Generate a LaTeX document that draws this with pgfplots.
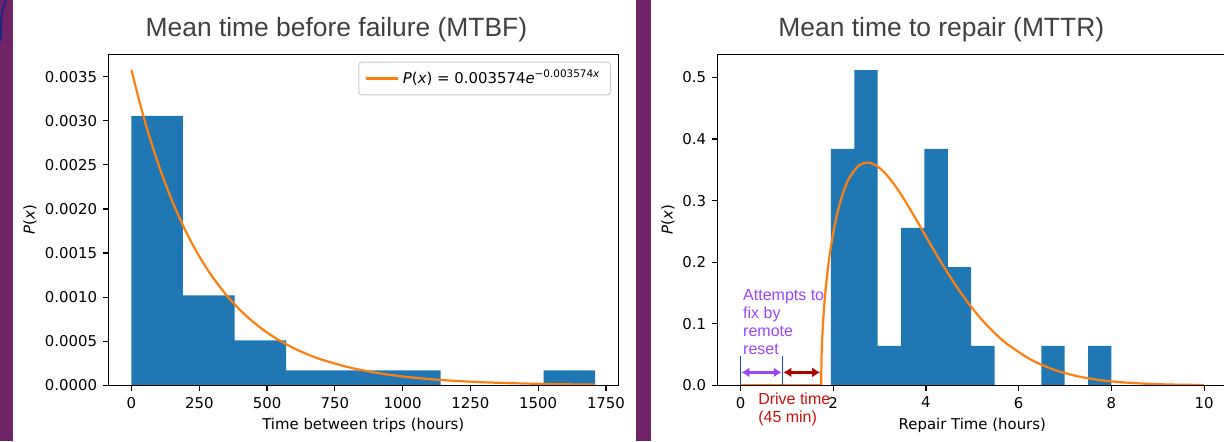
\documentclass[border=0pt]{standalone}
\usepackage{fontspec}
\setmainfont{DejaVu Sans}
\newfontfamily\arial{Liberation Sans}
\usepackage{pgfplots}
\pgfplotsset{compat=1.18}
\usetikzlibrary{arrows.meta}
\definecolor{mplblue}{HTML}{1F77B4}
\definecolor{mplorange}{HTML}{FF7F0E}
\definecolor{slidepurple}{HTML}{6E2466}
\definecolor{slidenavy}{HTML}{1B2A80}
\definecolor{titlegray}{HTML}{404040}
\definecolor{notepurple}{HTML}{9B46F8}
\definecolor{notered}{HTML}{C81010}
\definecolor{arrowred}{HTML}{B00000}
\definecolor{markblue}{HTML}{1F45C0}

% matplotlib-like look, 1px = 0.5pt
\pgfplotsset{
  mplstyle/.style={
    scale only axis, width=255pt, height=165.5pt, anchor=south west,
    axis on top,
    axis line style={black, line width=0.6pt},
    tick style={black, line width=0.6pt},
    major tick length=2.6pt,
    tick align=outside, tick pos=left,
    ymin=0,
    font=\fontsize{7.45}{9}\selectfont,
    /pgf/number format/assume math mode=true,
    /pgf/number format/1000 sep={},
    xticklabel style={anchor=north, inner sep=0pt, yshift=-3.1pt},
    yticklabel style={anchor=east, inner sep=0pt, xshift=-2.8pt},
    every axis x label/.style={at={(axis description cs:0.5,-0.135)}, anchor=base},
    every axis y label/.style={at={(axis description cs:-0.1535,0.5)}, rotate=90, anchor=center},
  }
}

\begin{document}
\begin{tikzpicture}
% slide background bits
\fill[slidepurple] (0,0) rectangle (6.35pt,220.5pt);
\fill[slidepurple] (318pt,0) rectangle (325.5pt,220.5pt);
\draw[slidenavy, line width=1pt] (0.3pt,200pt) to[out=85,in=-115] (3pt,220.5pt);

% ---- MTBF ----
\begin{axis}[mplstyle, at={(54.15pt,27.85pt)},
  xmin=-85.5, xmax=1795.5, ymax=0.003753,
  xtick={0,250,500,750,1000,1250,1500,1750},
  ytick={0,0.0005,0.001,0.0015,0.002,0.0025,0.003,0.0035},
  scaled y ticks=false,
  yticklabel style={/pgf/number format/fixed, /pgf/number format/fixed zerofill, /pgf/number format/precision=4},
  xlabel={Time between trips (hours)},
  ylabel={\textit{P}(\textit{x})},
  legend style={at={(1,1)}, anchor=north east, xshift=-3.65pt, yshift=-3.7pt,
    draw=black!20, rounded corners=1.5pt, line width=0.5pt,
    inner xsep=3pt, inner ysep=2pt, font=\fontsize{7.45}{9}\selectfont},
  legend cell align=left,
  legend image code/.code={\draw[#1] (0pt,0pt) -- (16pt,0pt);},
]
\addplot[ybar interval, fill=mplblue, draw=none, forget plot] coordinates {
  (0,0.003056) (190,0.001019) (380,0.000509) (570,0.0001698) (760,0.0001698)
  (950,0.0001698) (1140,0) (1330,0) (1520,0.0001698) (1710,0)};
\addplot[mplorange, line width=1.1pt, smooth] coordinates {
  (0,0.003574) (25,0.0032685) (50,0.0029891) (75,0.0027337) (100,0.0025000)
  (125,0.0022863) (150,0.0020909) (175,0.0019122) (200,0.0017488) (225,0.0015993)
  (250,0.0014626) (275,0.0013376) (300,0.0012232) (350,0.0010231) (400,0.0008557)
  (450,0.0007156) (500,0.0005985) (550,0.0005006) (600,0.0004187) (650,0.0003501)
  (700,0.0002929) (800,0.0002049) (900,0.0001433) (1000,0.0001003) (1100,0.0000701)
  (1200,0.0000491) (1300,0.0000343) (1400,0.0000240) (1500,0.0000168) (1600,0.0000117)
  (1710,0.0000079)};
\addlegendentry{\textit{P}(\textit{x}) = 0.003574\textit{e}\textsuperscript{−0.003574\textit{x}}}
\end{axis}

% ---- MTTR ----
\begin{axis}[mplstyle, at={(358.65pt,27.85pt)},
  xmin=-0.5, xmax=10.5, ymax=0.5376,
  xtick={0,2,4,6,8,10},
  ytick={0,0.1,0.2,0.3,0.4,0.5},
  yticklabel style={/pgf/number format/fixed, /pgf/number format/fixed zerofill, /pgf/number format/precision=1},
  xlabel={Repair Time (hours)},
  ylabel={\textit{P}(\textit{x})},
  every axis y label/.append style={at={(axis description cs:-0.0967,0.5)}},
  clip=false,
]
\addplot[ybar interval, fill=mplblue, draw=none] coordinates {
  (1.95,0.3839) (2.4542,0.5118) (2.9583,0.0640) (3.4625,0.2559) (3.9667,0.3839)
  (4.4708,0.1919) (4.975,0.0640) (5.4792,0) (5.9833,0) (6.4875,0.0640)
  (6.9917,0) (7.4958,0.0640) (8.0,0)};
\addplot[mplorange, line width=1.1pt] coordinates {(0,0) (1.74,0)};
\addplot[mplorange, line width=1.1pt, smooth] coordinates {
  (1.74,0) (1.75,0.0507) (1.77,0.0877) (1.80,0.1237) (1.84,0.1587) (1.89,0.1927)
  (1.94,0.2201) (2.04,0.2629) (2.14,0.2946) (2.24,0.3183) (2.34,0.3358) (2.54,0.3562)
  (2.74,0.3617) (2.94,0.3563) (3.14,0.3428) (3.34,0.3237) (3.54,0.3008) (3.74,0.2756)
  (3.99,0.2430) (4.24,0.2107) (4.49,0.1800) (4.74,0.1516) (4.99,0.1261) (5.24,0.1036)
  (5.49,0.0843) (5.74,0.0678) (6.24,0.0426) (6.74,0.0259) (7.24,0.0152) (7.74,0.0086)
  (8.24,0.0048) (8.74,0.0026) (9.24,0.0013) (10,0.0005)};
% annotations
\draw[markblue, line width=0.5pt] (axis cs:0,0) -- (axis cs:0,0.048);
\draw[markblue, line width=0.5pt] (axis cs:0.906,0) -- (axis cs:0.906,0.048);
\draw[notepurple, line width=1.5pt, {Latex[length=4pt,width=5pt]}-{Latex[length=4pt,width=5pt]}]
  (axis cs:0.02,0.021) -- (axis cs:0.89,0.021);
\draw[arrowred, line width=1.5pt, {Latex[length=4pt,width=5pt]}-{Latex[length=4pt,width=5pt]}]
  (axis cs:0.925,0.021) -- (axis cs:1.72,0.021);
\node[notepurple, anchor=north west, align=left, inner sep=0pt,
  font=\arial\fontsize{8}{9.15}\selectfont] at (axis cs:0.05,0.157)
  {Attempts to\\fix by\\remote\\reset};
\node[notered, anchor=north west, align=left, inner sep=0pt,
  font=\arial\fontsize{8}{9.15}\selectfont] at (axis cs:0.375,-0.011)
  {Drive time\\(45 min)};
\end{axis}

% titles
\node[anchor=base, text=titlegray, font=\arial\fontsize{13.2}{15}\selectfont]
  at (168.2pt,202.5pt) {Mean time before failure (MTBF)};
\node[anchor=base, text=titlegray, font=\arial\fontsize{13.2}{15}\selectfont]
  at (470.65pt,202.5pt) {Mean time to repair (MTTR)};

\pgfresetboundingbox
\useasboundingbox (0,0) rectangle (612pt,220.5pt);
\end{tikzpicture}
\end{document}
